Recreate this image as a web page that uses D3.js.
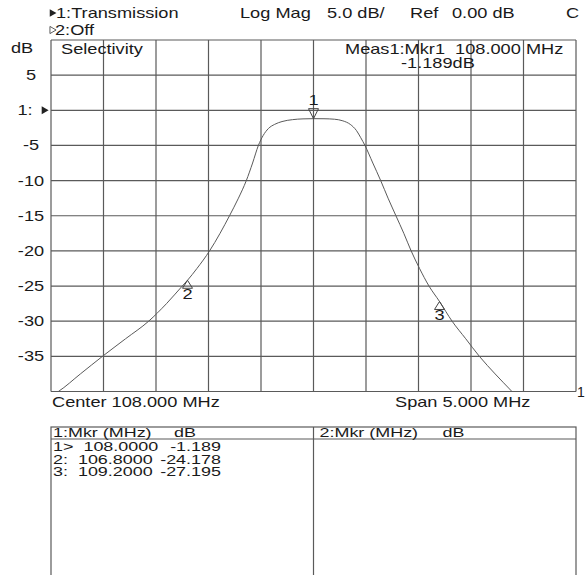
<!DOCTYPE html>
<html>
<head>
<meta charset="utf-8">
<script src="https://cdn.jsdelivr.net/npm/d3@7"></script>
<style>
  body { margin: 0; background: #fff; }
  text { font-family: "Liberation Sans", Arial, sans-serif; fill: #1a1a1a; white-space: pre; }
</style>
</head>
<body>
<svg id="chart" width="585" height="575"></svg>
<script>
// trace values (MHz, dB)
const freqMHz = [105.45, 105.57, 105.78, 105.99, 106.21, 106.43, 106.6, 106.75, 106.8, 106.89,
  107.01, 107.11, 107.2, 107.285, 107.36, 107.42, 107.475, 107.52, 107.57, 107.63,
  107.7, 107.8, 107.9, 108.0, 108.1, 108.2, 108.28, 108.35, 108.41, 108.45,
  108.49, 108.565, 108.64, 108.71, 108.785, 108.86, 108.93, 109.01, 109.1, 109.2,
  109.32, 109.45, 109.58, 109.73, 109.89, 110.05];
const magDb = [-41.0, -40.0, -37.5, -35.0, -32.5, -30.0, -27.5, -25.0, -24.178, -22.5,
  -20.0, -17.5, -15.0, -12.5, -10.0, -7.5, -5.0, -3.6, -2.6, -2.0,
  -1.6, -1.33, -1.22, -1.189, -1.2, -1.27, -1.5, -2.0, -2.9, -3.9,
  -5.0, -7.5, -10.0, -12.5, -15.0, -17.5, -20.0, -22.5, -25.0, -27.195,
  -30.0, -32.5, -35.0, -37.5, -40.0, -42.5];

// y tick labels (0 dB line carries the trace reference arrow instead)
const yTicks = [5, 0, -5, -10, -15, -20, -25, -30, -35];

// markers
const markerIds = ["1", "2", "3"];
const markerFreq = [108.0, 106.8, 109.2];
const markerDb = [-1.189, -24.178, -27.195];

// marker table rows
const tablePrefix = ["1>", "2:", "3:"];
const tableFreq = ["108.0000", "106.8000", "109.2000"];
const tableDb = ["-1.189", "-24.178", "-27.195"];

const W = 585, H = 575;
const pLeft = 51, pRight = 576, pTop = 40, pBottom = 391.5;
const SX = 1.3; // the capture is stretched horizontally
const gridColor = "#5a5a5a";

const svg = d3.select("#chart");

const x = d3.scaleLinear().domain([105.5, 110.5]).range([pLeft, pRight]);
const y = d3.scaleLinear().domain([-40, 10]).range([pBottom, pTop]);

function label(px, py, str, anchor, size, sx) {
  return svg.append("text")
    .attr("transform", `translate(${px},${py}) scale(${sx || SX},1)`)
    .attr("text-anchor", anchor || "start")
    .style("font-size", (size || 14) + "px")
    .text(str);
}

// grid
const grid = svg.append("g").attr("stroke", gridColor).attr("stroke-width", 1.2);
grid.selectAll("line.v")
  .data(d3.range(105.5, 110.51, 0.5))
  .join("line")
  .attr("class", "v")
  .attr("x1", d => x(d)).attr("x2", d => x(d))
  .attr("y1", pTop).attr("y2", pBottom);
grid.selectAll("line.h")
  .data(d3.range(-40, 10.1, 5))
  .join("line")
  .attr("class", "h")
  .attr("x1", pLeft).attr("x2", pRight)
  .attr("y1", d => y(d)).attr("y2", d => y(d));

// y labels
yTicks.forEach(v => {
  if (v === 0) return;
  label(31, y(v) + 5, String(v), "middle");
});
label(22, 53, "dB", "middle");
label(25, y(0) + 5, "1:", "middle");
svg.append("path")
  .attr("d", d3.symbol(d3.symbolTriangle, 28)())
  .attr("transform", `translate(${pLeft - 7},${y(0)}) rotate(90)`)
  .attr("fill", "#222");

// trace
svg.append("clipPath").attr("id", "plotclip")
  .append("rect").attr("x", pLeft).attr("y", pTop)
  .attr("width", pRight - pLeft).attr("height", pBottom - pTop);

const trace = freqMHz.map((f, i) => [f, magDb[i]]);
svg.append("path")
  .datum(trace)
  .attr("clip-path", "url(#plotclip)")
  .attr("fill", "none")
  .attr("stroke", "#5a5a5a")
  .attr("stroke-width", 1)
  .attr("d", d3.line().x(d => x(d[0])).y(d => y(d[1])).curve(d3.curveMonotoneX));

// markers
markerIds.forEach((id, i) => {
  const mx = x(markerFreq[i]), my = y(markerDb[i]);
  if (i === 0) {
    svg.append("path")
      .attr("d", `M${mx},${my} L${mx - 5},${my - 10} L${mx + 5},${my - 10} Z`)
      .attr("fill", "none").attr("stroke", "#444");
    label(mx, my - 14, id, "middle");
  } else {
    svg.append("path")
      .attr("d", `M${mx},${my} L${mx - 5},${my + 8} L${mx + 5},${my + 8} Z`)
      .attr("fill", "none").attr("stroke", "#444");
    label(mx, my + 19, id, "middle");
  }
});

// header
svg.append("path")
  .attr("d", d3.symbol(d3.symbolTriangle, 26)())
  .attr("transform", "translate(52,13) rotate(90)")
  .attr("fill", "#222");
label(56, 18, "1:Transmission");
svg.append("path")
  .attr("d", d3.symbol(d3.symbolTriangle, 22)())
  .attr("transform", "translate(52,30) rotate(90)")
  .attr("fill", "none").attr("stroke", "#333").attr("stroke-width", 0.8);
label(55, 35, "2:Off");
label(240, 18, "Log Mag");
label(327, 18, "5.0 dB/");
label(410, 18, "Ref");
label(452, 18, "0.00 dB");
label(566, 18, "C");

label(61, 54, "Selectivity");
label(345, 54, "Meas1:Mkr1  108.000 MHz");
label(401, 68, "-1.189dB");

// bottom annotations
label(52, 407, "Center 108.000 MHz");
label(395, 407, "Span 5.000 MHz");
label(577, 397, "1", "start", 14, 1);

// marker table
const tTop = 427, tHead = 439, tMid = (pLeft + pRight) / 2;
const table = svg.append("g").attr("stroke", gridColor).attr("stroke-width", 1.2).attr("fill", "none");
table.append("rect").attr("x", pLeft).attr("y", tTop).attr("width", pRight - pLeft).attr("height", H - tTop + 5);
table.append("line").attr("x1", pLeft).attr("x2", pRight).attr("y1", tHead).attr("y2", tHead);
table.append("line").attr("x1", tMid).attr("x2", tMid).attr("y1", tTop).attr("y2", H + 5);

const TS = 13, TSX = 1.38;
label(53, 437, "1:Mkr (MHz)", "start", TS, TSX);
label(174, 437, "dB", "start", TS, TSX);
label(tMid + 6, 437, "2:Mkr (MHz)", "start", TS, TSX);
label(tMid + 129, 437, "dB", "start", TS, TSX);

tablePrefix.forEach((p, i) => {
  const ty = 451 + i * 12.7;
  label(53, ty, `${p}  ${tableFreq[i]}`, "start", TS, TSX);
  label(221, ty, tableDb[i], "end", TS, TSX);
});
</script>
</body>
</html>
